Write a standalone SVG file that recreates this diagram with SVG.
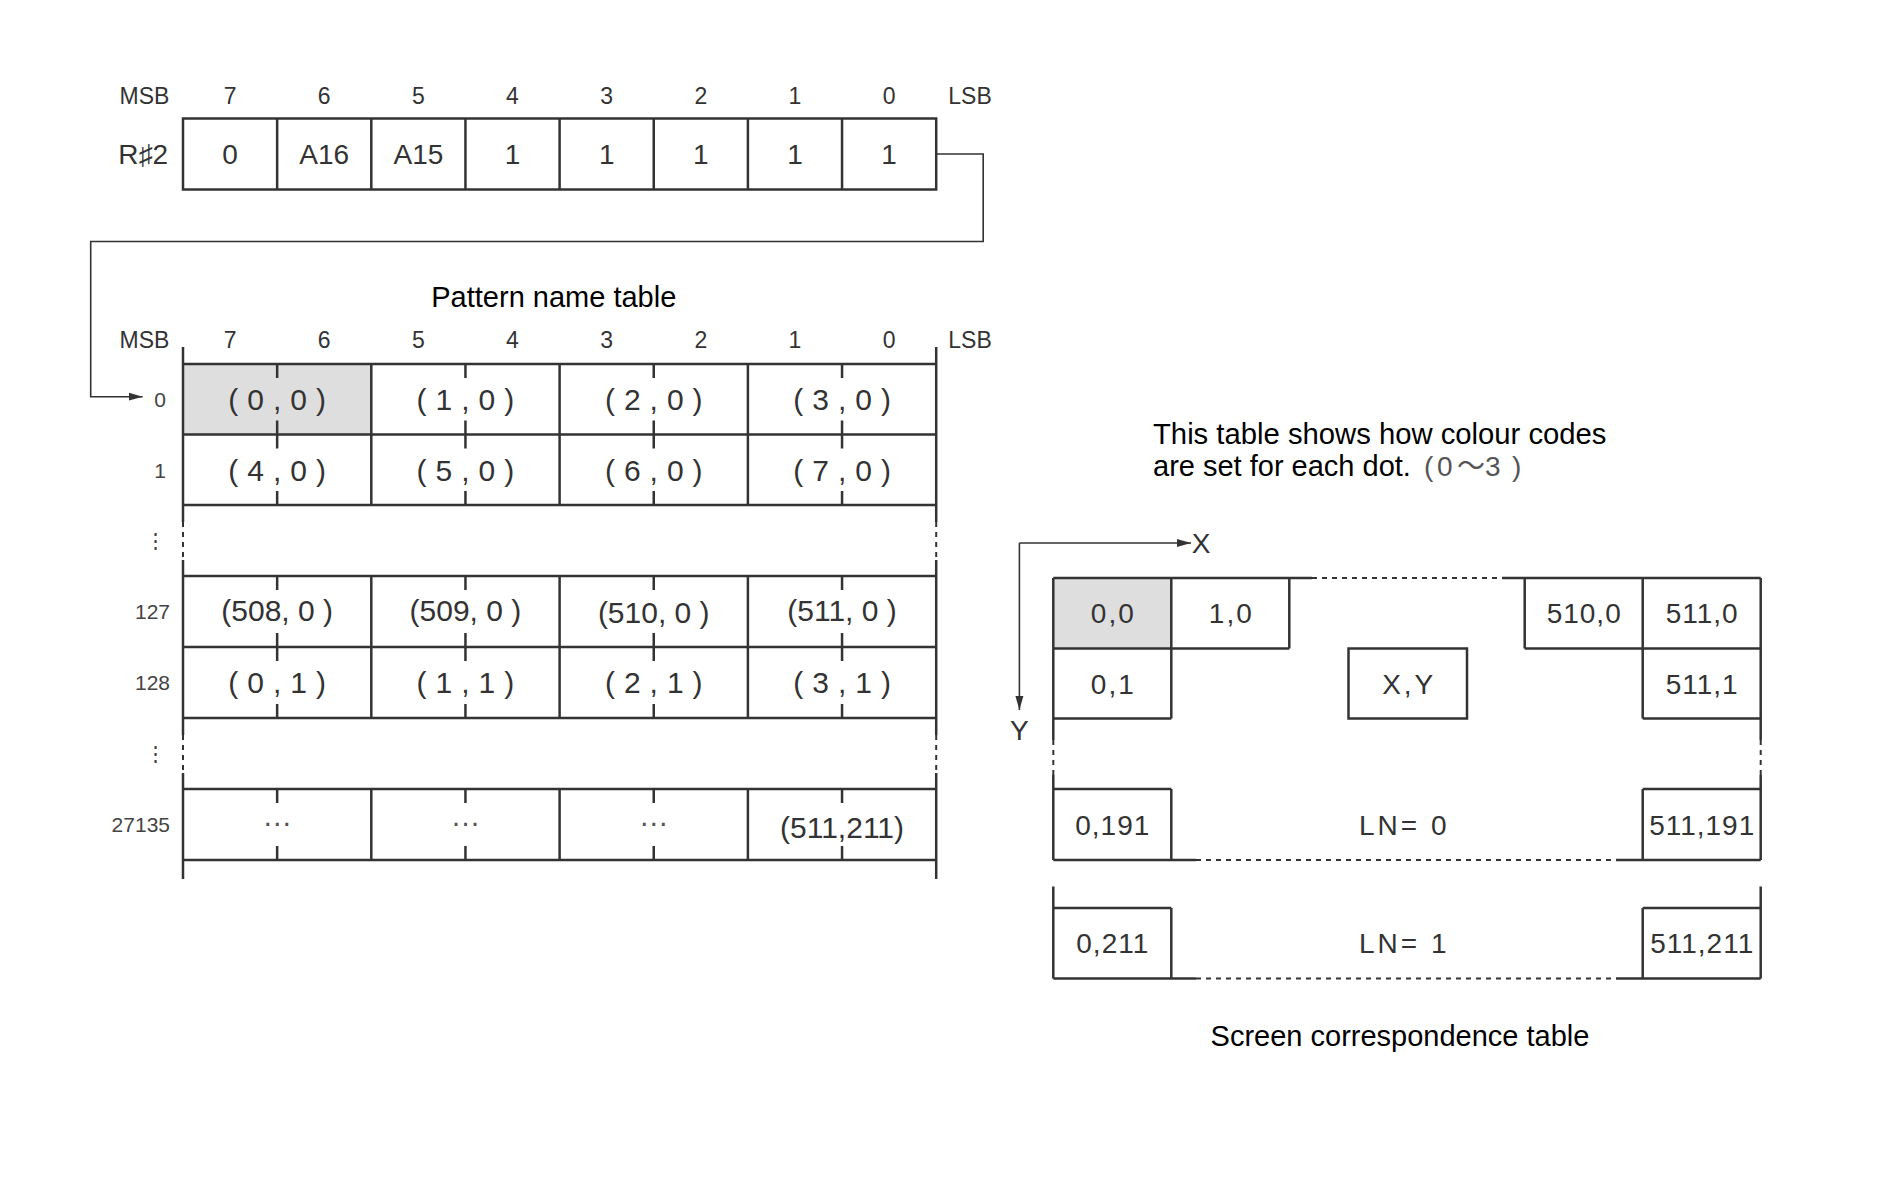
<svg xmlns="http://www.w3.org/2000/svg" width="1895" height="1194" viewBox="0 0 1895 1194">
<defs>
<style>
.ln{stroke:#333;stroke-width:2.5;fill:none}
.thin{stroke:#333;stroke-width:1.6;fill:none}
.dash{stroke:#333;stroke-width:2;stroke-dasharray:5 5;fill:none}
.shade{fill:#dedede}
.t{font-family:"Liberation Sans",Arial,sans-serif;fill:#333}
.hd{font-size:23px;text-anchor:middle}
.rl{font-size:21px;text-anchor:end;fill:#444}
.cv{font-size:28px;text-anchor:middle}
.pc{font-size:30px;text-anchor:middle}
.sc{font-size:28px;text-anchor:middle;letter-spacing:1px}
.cap{font-family:"Liberation Sans",Arial,sans-serif;font-size:29px;fill:#000}
</style>
<marker id="ah" viewBox="0 0 14 10" refX="14" refY="5" markerWidth="14" markerHeight="10" markerUnits="userSpaceOnUse" orient="auto">
<path d="M0,1 L14,5 L0,9 z" fill="#333"/>
</marker>
</defs>
<rect width="1895" height="1194" fill="#fff"/>

<g id="register">
<rect class="ln" x="183" y="118.5" width="753.2" height="71"/>
<path class="ln" d="M277.15,118.5V189.5M371.3,118.5V189.5M465.45,118.5V189.5M559.6,118.5V189.5M653.75,118.5V189.5M747.9,118.5V189.5M842.05,118.5V189.5"/>
<g class="t hd">
<text x="144.5" y="104">MSB</text>
<text x="230.1" y="104">7</text>
<text x="324.2" y="104">6</text>
<text x="418.4" y="104">5</text>
<text x="512.5" y="104">4</text>
<text x="606.7" y="104">3</text>
<text x="700.8" y="104">2</text>
<text x="795" y="104">1</text>
<text x="889.1" y="104">0</text>
<text x="970" y="104">LSB</text>
</g>
<text class="t" x="168" y="164" font-size="28" text-anchor="end" font-family="Liberation Sans, DejaVu Sans, sans-serif">R♯2</text>
<g class="t cv">
<text x="230.1" y="164">0</text>
<text x="324.2" y="164">A16</text>
<text x="418.4" y="164">A15</text>
<text x="512.5" y="164">1</text>
<text x="606.7" y="164">1</text>
<text x="700.8" y="164">1</text>
<text x="795" y="164">1</text>
<text x="889.1" y="164">1</text>
</g>
</g>

<g id="connectors">
<path class="thin" d="M936.2,154H983.2V241.5H90.7V396.7H142.7" marker-end="url(#ah)"/>
<path class="thin" d="M1019.4,543H1191" marker-end="url(#ah)"/>
<path class="thin" d="M1019.4,543V710" marker-end="url(#ah)"/>
</g>

<g id="pattern-name-table">
<text class="cap" x="553.8" y="307" text-anchor="middle">Pattern name table</text>
<g class="t hd">
<text x="144.5" y="348">MSB</text>
<text x="230.1" y="348">7</text>
<text x="324.2" y="348">6</text>
<text x="418.4" y="348">5</text>
<text x="512.5" y="348">4</text>
<text x="606.7" y="348">3</text>
<text x="700.8" y="348">2</text>
<text x="795" y="348">1</text>
<text x="889.1" y="348">0</text>
<text x="970" y="348">LSB</text>
</g>
<rect class="shade" x="183" y="364" width="188.3" height="70.5"/>
<path class="ln" d="M183,364H936.2M183,434.5H936.2M183,505H936.2M183,576H936.2M183,647H936.2M183,718H936.2M183,789H936.2M183,860H936.2"/>
<path class="ln" d="M183,347V522M183,560V735M183,773V879M936.2,347V522M936.2,560V735M936.2,773V879"/>
<path class="dash" d="M183,522V560M183,735V773M936.2,522V560M936.2,735V773"/>
<path class="ln" d="M371.3,364V505M559.6,364V505M747.9,364V505M371.3,576V718M559.6,576V718M747.9,576V718M371.3,789V860M559.6,789V860M747.9,789V860"/>
<path class="ln" d="M277.15,364V378M277.15,420.5V448.5M277.15,491V505M277.15,576V590M277.15,633V661M277.15,704V718M277.15,789V803M277.15,846V860M465.45,364V378M465.45,420.5V448.5M465.45,491V505M465.45,576V590M465.45,633V661M465.45,704V718M465.45,789V803M465.45,846V860M653.75,364V378M653.75,420.5V448.5M653.75,491V505M653.75,576V590M653.75,633V661M653.75,704V718M653.75,789V803M653.75,846V860M842.05,364V378M842.05,420.5V448.5M842.05,491V505M842.05,576V590M842.05,633V661M842.05,704V718M842.05,789V803M842.05,846V860"/>
<g class="t rl">
<text x="166" y="406.5">0</text>
<text x="166" y="477.5">1</text>
<text x="166" y="547.5">⋮</text>
<text x="170" y="619">127</text>
<text x="170" y="690">128</text>
<text x="166" y="761">⋮</text>
<text x="170" y="832">27135</text>
</g>
<g class="t pc" letter-spacing="9">
<text x="281.65" y="409.5">(0,0)</text>
<text x="469.95" y="409.5">(1,0)</text>
<text x="658.25" y="409.5">(2,0)</text>
<text x="846.55" y="409.5">(3,0)</text>
<text x="281.65" y="480.5">(4,0)</text>
<text x="469.95" y="480.5">(5,0)</text>
<text x="658.25" y="480.5">(6,0)</text>
<text x="846.55" y="480.5">(7,0)</text>
<text x="281.65" y="693">(0,1)</text>
<text x="469.95" y="693">(1,1)</text>
<text x="658.25" y="693">(2,1)</text>
<text x="846.55" y="693">(3,1)</text>
</g>
<g class="t pc" font-size="29">
<text x="277.15" y="621">(508, 0 )</text>
<text x="465.45" y="621">(509, 0 )</text>
<text x="653.75" y="623">(510, 0 )</text>
<text x="842.05" y="621">(511, 0 )</text>
<text x="277.15" y="826" fill="#555">…</text>
<text x="465.45" y="826" fill="#555">…</text>
<text x="653.75" y="826" fill="#555">…</text>
<text x="842.05" y="838">(511,211)</text>
</g>
</g>

<g id="note">
<text class="cap" x="1153" y="443.5" textLength="453.5" lengthAdjust="spacingAndGlyphs">This table shows how colour codes</text>
<text class="cap" x="1153" y="476">are set for each dot.<tspan x="1424 1437 1457 1485 1512" font-size="28" fill="#555" font-family="Liberation Sans, Noto Sans CJK JP, sans-serif">(0～3)</tspan></text>
</g>

<g id="screen-table">
<text class="t" x="1201" y="553" font-size="28" text-anchor="middle">X</text>
<text class="t" x="1019.4" y="740" font-size="28" text-anchor="middle">Y</text>
<rect class="shade" x="1053.3" y="578" width="118" height="70.5"/>
<path class="ln" d="M1053.3,578H1312M1502,578H1760.7"/>
<path class="dash" d="M1312,578H1502"/>
<path class="ln" d="M1053.3,578V740M1053.3,775V860M1760.7,578V740M1760.7,775V860"/>
<path class="dash" d="M1053.3,740V775M1760.7,740V775"/>
<path class="ln" d="M1171.3,578V718.5M1053.3,648.5H1289.3M1289.3,578V648.5M1053.3,718.5H1171.3"/>
<path class="ln" d="M1524.7,578V648.5M1524.7,648.5H1760.7M1642.7,578V718.5M1642.7,718.5H1760.7"/>
<rect class="ln" x="1348.5" y="648.5" width="118.5" height="70"/>
<path class="ln" d="M1053.3,789H1171.3M1171.3,789V860M1642.7,789H1760.7M1642.7,789V860M1053.3,860H1196M1616,860H1760.7"/>
<path class="dash" d="M1196,860H1616"/>
<path class="ln" d="M1053.3,886.5V978.5M1760.7,886.5V978.5M1053.3,908H1171.3M1171.3,908V978.5M1642.7,908H1760.7M1642.7,908V978.5M1053.3,978.5H1196M1616,978.5H1760.7"/>
<path class="dash" d="M1196,978.5H1616"/>
<g class="t sc">
<text x="1113.3" y="623.3" letter-spacing="2">0,0</text>
<text x="1231.3" y="623.3" letter-spacing="2">1,0</text>
<text x="1584.2" y="623.3">510,0</text>
<text x="1702.2" y="623.3">511,0</text>
<text x="1113.3" y="693.5" letter-spacing="2">0,1</text>
<text x="1409.2" y="693.5" letter-spacing="3">X,Y</text>
<text x="1702.2" y="693.5">511,1</text>
<text x="1112.8" y="834.5">0,191</text>
<text x="1404.3" y="834.5" letter-spacing="3">LN= 0</text>
<text x="1702.2" y="834.5">511,191</text>
<text x="1112.8" y="953">0,211</text>
<text x="1404.3" y="953" letter-spacing="3">LN= 1</text>
<text x="1702.2" y="953">511,211</text>
</g>
<text class="cap" x="1400" y="1046" text-anchor="middle">Screen correspondence table</text>
</g>
</svg>
